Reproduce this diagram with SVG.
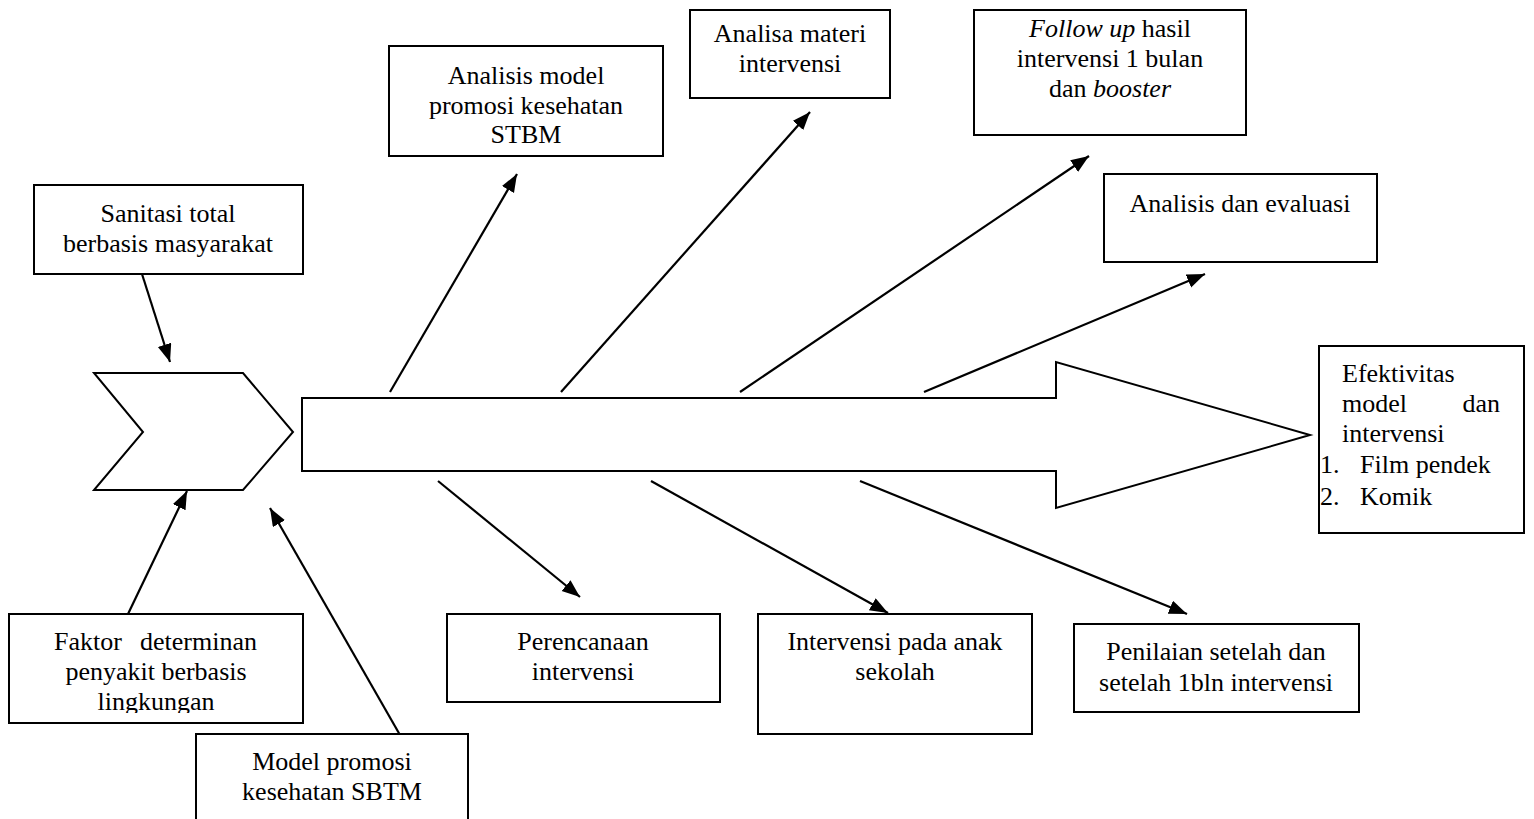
<svg xmlns="http://www.w3.org/2000/svg" width="1534" height="819" viewBox="0 0 1534 819">
<style>
.box{fill:#fff;stroke:#000;stroke-width:2}
.shape{fill:#fff;stroke:#000;stroke-width:2;stroke-linejoin:miter}
.c{stroke:#000;stroke-width:2.2;fill:none;marker-end:url(#ah)}
text{font-family:"Liberation Serif","Times New Roman",serif;font-size:26px;fill:#000}
.m{text-anchor:middle}
.e{text-anchor:end}
.i{font-style:italic}
</style>
<defs>
<marker id="ah" markerUnits="userSpaceOnUse" markerWidth="20" markerHeight="16" refX="18" refY="7" orient="auto" viewBox="0 0 20 16">
<path d="M0,0 L18,7 L0,14 z" fill="#000"/>
</marker>
<clipPath id="fclip"><rect x="0" y="600" width="320" height="113"/></clipPath>
</defs>
<rect x="0" y="0" width="1534" height="819" fill="#fff"/>

<g id="chevron"><polygon class="shape" points="94,373 243,373 293,432 243,490 94,490 143,432"/></g>
<g id="main-arrow"><polygon class="shape" points="302,398 1056,398 1056,362 1310,435 1056,508 1056,471 302,471"/></g>

<g id="connectors">
<line class="c" x1="142" y1="274" x2="170" y2="362"/>
<line class="c" x1="128" y1="614" x2="187" y2="491"/>
<line class="c" x1="400" y1="735" x2="270" y2="508"/>
<line class="c" x1="390" y1="392" x2="517" y2="174"/>
<line class="c" x1="561" y1="392" x2="810" y2="112"/>
<line class="c" x1="740" y1="392" x2="1089" y2="156"/>
<line class="c" x1="924" y1="392" x2="1205" y2="274"/>
<line class="c" x1="438" y1="481" x2="580" y2="597"/>
<line class="c" x1="651" y1="481" x2="888" y2="613"/>
<line class="c" x1="860" y1="481" x2="1187" y2="614"/>
</g>

<g id="sanitasi">
<rect class="box" x="34" y="185" width="269" height="89"/>
<text class="m" x="168" y="222">Sanitasi total</text>
<text class="m" x="168" y="252">berbasis masyarakat</text>
</g>

<g id="analisis-model">
<rect class="box" x="389" y="46" width="274" height="110"/>
<text class="m" x="526" y="84">Analisis model</text>
<text class="m" x="526" y="114">promosi kesehatan</text>
<text class="m" x="526" y="143">STBM</text>
</g>

<g id="analisa-materi">
<rect class="box" x="690" y="10" width="200" height="88"/>
<text class="m" x="790" y="42">Analisa materi</text>
<text class="m" x="790" y="72">intervensi</text>
</g>

<g id="follow-up">
<rect class="box" x="974" y="10" width="272" height="125"/>
<text class="m" x="1110" y="37"><tspan class="i">Follow up</tspan> hasil</text>
<text class="m" x="1110" y="67">intervensi 1 bulan</text>
<text class="m" x="1110" y="97">dan <tspan class="i">booster</tspan></text>
</g>

<g id="analisis-evaluasi">
<rect class="box" x="1104" y="174" width="273" height="88"/>
<text class="m" x="1240" y="212">Analisis dan evaluasi</text>
</g>

<g id="efektivitas">
<rect class="box" x="1319" y="346" width="205" height="187"/>
<text x="1342" y="382">Efektivitas</text>
<text x="1342" y="412">model</text>
<text class="e" x="1500" y="412">dan</text>
<text x="1342" y="442">intervensi</text>
<text x="1320" y="473">1.</text>
<text x="1360" y="473">Film pendek</text>
<text x="1320" y="505">2.</text>
<text x="1360" y="505">Komik</text>
</g>

<g id="perencanaan">
<rect class="box" x="447" y="614" width="273" height="88"/>
<text class="m" x="583" y="650">Perencanaan</text>
<text class="m" x="583" y="680">intervensi</text>
</g>

<g id="intervensi-anak">
<rect class="box" x="758" y="614" width="274" height="120"/>
<text class="m" x="895" y="650">Intervensi pada anak</text>
<text class="m" x="895" y="680">sekolah</text>
</g>

<g id="penilaian">
<rect class="box" x="1074" y="624" width="285" height="88"/>
<text class="m" x="1216" y="660">Penilaian setelah dan</text>
<text class="m" x="1216" y="691">setelah 1bln intervensi</text>
</g>

<g id="faktor">
<rect class="box" x="9" y="614" width="294" height="109"/>
<text x="54" y="650">Faktor</text>
<text class="e" x="257" y="650">determinan</text>
<text class="m" x="156" y="680">penyakit berbasis</text>
<text class="m" x="156" y="710" clip-path="url(#fclip)">lingkungan</text>
</g>

<g id="model-promosi">
<rect class="box" x="196" y="734" width="272" height="100"/>
<text class="m" x="332" y="770">Model promosi</text>
<text class="m" x="332" y="800">kesehatan SBTM</text>
</g>
</svg>
